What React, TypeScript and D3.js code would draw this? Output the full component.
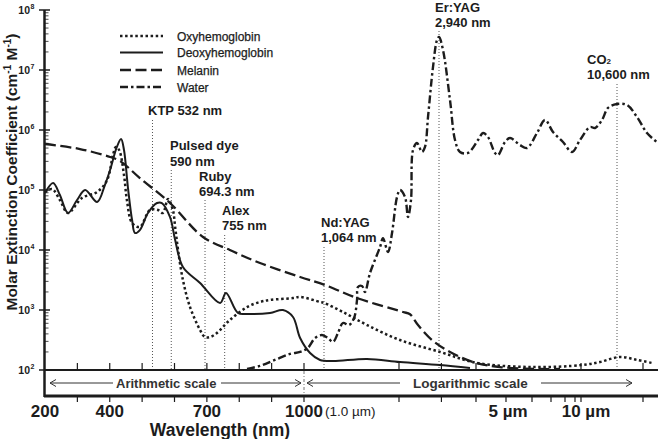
import React from 'react';
import * as d3 from 'd3';

type Pt = [number, number];

// [wavelength nm, molar extinction coefficient]
const oxyhemoglobin: Pt[] = [
  [200, 9.26e4], [222, 1.04e5], [246, 6.81e4], [271, 4.14e4], [314, 7.36e4], [361, 9.26e4],
  [392, 1.47e5], [410, 3.83e5], [419, 5.21e5], [429, 4.64e5], [444, 1.78e5], [453, 6.81e4],
  [469, 2.82e4], [493, 2.42e4], [524, 4.64e4], [549, 4.64e4], [564, 4.14e4], [580, 7.08e4],
  [595, 4.64e4], [602, 2.42e4], [611, 1.0e4], [626, 3160], [648, 1120], [679, 464], [694, 355],
  [710, 355], [731, 414], [771, 681], [824, 1120], [864, 1360], [895, 1470], [966, 1580],
  [988, 1650], [1051, 1360], [1064, 1310], [1248, 926], [1528, 562], [2019, 316], [2965, 200],
  [4030, 131], [6049, 112], [10016, 121], [10312, 136], [11033, 165], [13844, 147], [17826, 131],
];

const deoxyhemoglobin: Pt[] = [
  [200, 8.91e4], [225, 1.31e5], [246, 8.25e4], [271, 4.14e4], [299, 6.81e4], [324, 1.0e5],
  [361, 6.31e4], [385, 1.21e5], [401, 2.15e5], [422, 5.21e5], [435, 7.08e5], [444, 4.64e5],
  [456, 1.12e5], [469, 3.16e4], [478, 1.92e4], [493, 2.15e4], [518, 4.14e4], [546, 6.07e4],
  [561, 6.07e4], [586, 3.55e4], [602, 1.47e4], [626, 5210], [679, 2820], [741, 1310],
  [759, 1920], [796, 891], [824, 858], [895, 891], [935, 1000], [966, 764], [988, 341],
  [1019, 192], [1051, 147], [1148, 141], [1528, 153], [2019, 136], [2965, 121], [3805, 108],
];

const melanin: Pt[] = [
  [200, 5.84e5], [308, 4.82e5], [401, 3.55e5], [432, 3.04e5], [493, 1.58e5], [586, 6.07e4],
  [688, 1.65e4], [771, 1.0e4], [864, 6070], [988, 3550], [1073, 2610], [1405, 1580],
  [2079, 926], [2224, 850], [2402, 562], [2749, 316], [3222, 200], [3901, 136], [4782, 112],
  [6402, 104], [7627, 104],
];

const water: Pt[] = [
  [824, 104], [864, 117], [910, 147], [957, 185], [988, 200], [1012, 233], [1035, 341],
  [1057, 383], [1100, 341], [1148, 293], [1197, 414], [1248, 607], [1313, 562], [1370, 736],
  [1405, 1470], [1416, 2420], [1465, 2510], [1502, 2000], [1567, 4140], [1705, 1.12e4],
  [1748, 1.58e4], [1823, 9260], [1886, 1.92e4], [1967, 7.64e4], [2019, 1.0e5], [2119, 7.64e4],
  [2181, 3.55e4], [2245, 6.81e4], [2289, 4.64e5], [2379, 6.07e5], [2496, 4.3e5], [2569, 5.21e5],
  [2645, 1.65e6], [2775, 1.12e7], [2884, 3.16e7], [2940, 3.55e7], [3040, 2.15e7], [3222, 3.16e6],
  [3359, 6.81e5], [3501, 4.3e5], [3742, 4.14e5], [4060, 6.81e5], [4214, 8.91e5], [4373, 7.64e5],
  [4607, 4.14e5], [4711, 3.83e5], [4963, 6.31e5], [5142, 7.36e5], [5516, 5.62e5], [5793, 5.01e5],
  [6248, 8.91e5], [6667, 1.47e6], [7135, 9.26e5], [7849, 6.31e5], [8688, 4.3e5], [9826, 6.81e5],
  [10147, 1.12e6], [10229, 1.08e6], [10346, 1.47e6], [10447, 2.33e6], [10600, 2.71e6],
  [12115, 2.61e6], [13844, 1.65e6], [16196, 8.91e5], [20000, 6.07e5],
];

const seriesNames = ['Oxyhemoglobin', 'Deoxyhemoglobin', 'Melanin', 'Water'];

const laserNames = [['KTP 532 nm'], ['Pulsed dye', '590 nm'], ['Ruby', '694.3 nm'], ['Alex', '755 nm'], ['Nd:YAG', '1,064 nm'], ['Er:YAG', '2,940 nm'], ['CO2', '10,600 nm']];
const laserWavelengths = [532, 590, 694.3, 755, 1064, 2940, 10600];

const yDecades = [2, 3, 4, 5, 6, 7, 8];
const arithTicks = [300, 400, 500, 600, 700, 800, 900, 1000];
const upperLogTicks = [2000, 3000, 4000, 10000, 15000];
const lowerLogTicks = [2000, 3000, 4000, 5000, 6000, 7000, 8000, 9000, 10000, 15000];
const xTickLabels: [number, string][] = [[200, '200'], [400, '400'], [700, '700'], [1000, '1000'], [5000, '5 µm'], [10000, '10 µm']];

const FONT = '"Liberation Sans", Arial, Helvetica, sans-serif';
const INK = '#1c1c1c';

export default function App() {
  const xA = d3.scaleLinear().domain([200, 1000]).range([45, 304]);
  const xL = d3
    .scaleLog()
    .domain([1000, 1064, 2000, 2940, 4000, 5000, 6000, 7000, 8000, 9000, 10000, 10600, 15000, 20000])
    .range([304, 324, 399, 439, 476, 506, 532, 551, 565, 575, 581, 617, 643, 658]);
  const x = (w: number) => (w <= 1000 ? xA(w) : xL(w));
  const y = d3.scaleLog().domain([1e2, 1e8]).range([370, 10]);
  const line = d3
    .line<Pt>()
    .x((d) => x(d[0]))
    .y((d) => y(d[1]))
    .curve(d3.curveCatmullRom.alpha(0.5));

  const styles = [
    { w: 2.5, dash: '2.5 2.6' },
    { w: 2, dash: undefined as string | undefined },
    { w: 2.3, dash: '11 4.5' },
    { w: 2.4, dash: '8 3 2.5 3' },
  ];
  const data = [oxyhemoglobin, deoxyhemoglobin, melanin, water];

  const laserLayout = [
    { lx: 148, ly: [115], top: 120 },
    { lx: 170, ly: [150, 165.5], top: 170 },
    { lx: 199, ly: [181, 195.5], top: 200 },
    { lx: 222, ly: [215, 230], top: 235 },
    { lx: 321, ly: [227, 242], top: 247 },
    { lx: 435, ly: [12, 26.5], top: 31 },
    { lx: 587, ly: [64, 78.5], top: 84 },
  ];
  const legendY = [36, 52.5, 70, 87];
  const labelDx = [0, 0, 0, 0, 2, 5];

  const minorTicks: number[] = [];
  for (let d = 2; d < 8; d++) for (let k = 2; k <= 9; k++) minorTicks.push(k * Math.pow(10, d));

  const arrow = (xt: number, yy: number, dir: number) =>
    `M${xt + dir * 6},${yy - 3.5} L${xt},${yy} L${xt + dir * 6},${yy + 3.5}`;

  return (
    <svg width={660} height={439} style={{ position: 'absolute', left: 0, top: 0, background: '#fff' }} fontFamily={FONT}>
      <rect width={660} height={439} fill="#fff" />
      {/* laser lines */}
      {laserWavelengths.map((wl, i) => (
        <line key={'ll' + i} x1={x(wl)} x2={x(wl)} y1={laserLayout[i].top} y2={369} stroke="#555" strokeWidth={1} strokeDasharray="1 2" />
      ))}
      {laserNames.map((lines, i) => (
        <g key={'lt' + i}>
          {lines.map((t, j) =>
            t === 'CO2' ? (
              <text key={j} x={laserLayout[i].lx} y={laserLayout[i].ly[j]} fontSize={13} fontWeight="bold" fill={INK}>
                CO<tspan fontSize={8}>2</tspan>
              </text>
            ) : (
              <text key={j} x={laserLayout[i].lx} y={laserLayout[i].ly[j]} fontSize={13} fontWeight="bold" fill={INK}>
                {t}
              </text>
            )
          )}
        </g>
      ))}
      {/* curves */}
      {data.map((d, i) => (
        <path key={'c' + i} d={line(d) || ''} fill="none" stroke={INK} strokeWidth={styles[i].w} strokeDasharray={styles[i].dash} />
      ))}
      {/* legend */}
      {seriesNames.map((n, i) => (
        <g key={'lg' + i}>
          <line x1={120} x2={163} y1={legendY[i]} y2={legendY[i]} stroke={INK} strokeWidth={styles[i].w} strokeDasharray={styles[i].dash} />
          <text x={177} y={legendY[i] + 4.5} fontSize={12} fill={INK} stroke={INK} strokeWidth={0.25}>
            {n}
          </text>
        </g>
      ))}
      {/* y axis */}
      <line x1={44.5} x2={44.5} y1={10} y2={397} stroke={INK} strokeWidth={2.5} />
      {minorTicks.map((v, i) => (
        <line key={'mt' + i} x1={44} x2={48.5} y1={y(v)} y2={y(v)} stroke={INK} strokeWidth={0.8} />
      ))}
      {yDecades.map((e) => (
        <g key={'yd' + e}>
          <line x1={39} x2={50} y1={y(Math.pow(10, e))} y2={y(Math.pow(10, e))} stroke={INK} strokeWidth={1.5} />
          <text x={30} y={y(Math.pow(10, e)) + 4} fontSize={10.5} fontWeight="bold" textAnchor="end" fill={INK}>
            10
          </text>
          <text x={30.5} y={y(Math.pow(10, e)) - 1} fontSize={7} fontWeight="bold" fill={INK}>
            {e}
          </text>
        </g>
      ))}
      <text transform="translate(17,172) rotate(-90)" textAnchor="middle" fontSize={15.5} fontWeight="bold" fill={INK}>
        Molar Extinction Coefficient (cm<tspan fontSize={10} dy={-6}>-1</tspan>
        <tspan dy={6}> M</tspan>
        <tspan fontSize={10} dy={-6}>-1</tspan>
        <tspan dy={6}>)</tspan>
      </text>
      {/* x axes */}
      <line x1={44} x2={658} y1={370} y2={370} stroke={INK} strokeWidth={2} />
      <line x1={44} x2={658} y1={396} y2={396} stroke={INK} strokeWidth={3} />
      {arithTicks.concat(upperLogTicks).map((w, i) => (
        <line key={'ut' + i} x1={x(w)} x2={x(w)} y1={363} y2={370} stroke={INK} strokeWidth={1.2} />
      ))}
      {arithTicks.concat(lowerLogTicks).map((w, i) => (
        <line key={'bt' + i} x1={x(w)} x2={x(w)} y1={396} y2={402} stroke={INK} strokeWidth={1.2} />
      ))}
      <line x1={x(1000)} x2={x(1000)} y1={371} y2={395} stroke="#777" strokeWidth={1} strokeDasharray="3 2 1 2" />
      {/* scale band */}
      <g stroke="#333" strokeWidth={1} fill="none">
        <line x1={50} x2={113} y1={383} y2={383} />
        <path d={arrow(50, 383, 1)} />
        <line x1={221} x2={301} y1={383} y2={383} />
        <path d={arrow(301, 383, -1)} />
        <line x1={307} x2={400} y1={383} y2={383} />
        <path d={arrow(307, 383, 1)} />
        <line x1={541} x2={632} y1={383} y2={383} />
        <path d={arrow(632, 383, -1)} />
      </g>
      <text x={116} y={388} fontSize={13} fontWeight="bold" fill="#333">
        Arithmetic scale
      </text>
      <text x={413} y={388} fontSize={13.5} fontWeight="bold" fill="#333">
        Logarithmic scale
      </text>
      {xTickLabels.map(([w, t], i) => (
        <text key={'xl' + i} x={x(w) + labelDx[i]} y={416.5} fontSize={17} fontWeight="bold" textAnchor="middle" fill={INK}>
          {t}
        </text>
      ))}
      <text x={325} y={416} fontSize={13.5} fill={INK}>
        (1.0 µm)
      </text>
      <text x={220} y={435.5} fontSize={17.5} fontWeight="bold" textAnchor="middle" fill={INK}>
        Wavelength (nm)
      </text>
    </svg>
  );
}
